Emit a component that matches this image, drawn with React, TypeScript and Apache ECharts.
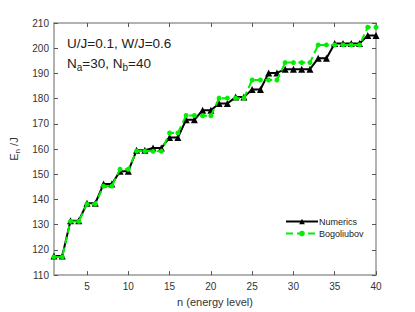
import React, { useEffect, useRef } from "react";
import * as echarts from "echarts";

const levels: number[] = Array.from({ length: 40 }, (_, i) => i + 1);
const numerics: number[] = [
  117.6, 117.6, 131.6, 131.6, 138.5, 138.5, 146.1, 146.1, 151.2, 151.2,
  159.5, 159.5, 160.4, 160.4, 164.6, 164.6, 171.6, 171.6, 175.4, 175.4,
  178.1, 178.1, 180.6, 180.6, 183.6, 183.6, 190.2, 190.2, 191.7, 191.7,
  191.7, 191.7, 196.0, 196.0, 201.9, 201.9, 201.9, 201.9, 205.0, 205.0,
];
const bogoliubov: number[] = [
  117.2, 117.2, 131.3, 131.3, 138.2, 138.2, 145.3, 145.3, 152.0, 152.0,
  159.2, 159.2, 159.1, 159.1, 166.4, 166.4, 173.3, 173.3, 173.2, 173.2,
  180.2, 180.2, 180.2, 180.2, 187.4, 187.4, 187.4, 187.4, 194.3, 194.3,
  194.3, 194.3, 201.3, 201.3, 201.3, 201.3, 201.3, 201.3, 208.3, 208.3,
];
const xTicks: number[] = [5, 10, 15, 20, 25, 30, 35, 40];

const FONT = "Liberation Sans";
const AXIS = "#999999";

export default function App() {
  const ref = useRef<HTMLDivElement>(null);
  useEffect(() => {
    if (!ref.current) return;
    const chart = echarts.init(ref.current, undefined, { renderer: "svg" });
    const axisCommon = {
      axisLine: { show: true, lineStyle: { color: AXIS, width: 1.5 } },
      axisTick: { show: true, inside: true, length: 4, lineStyle: { color: "#555", width: 1 } },
      splitLine: { show: false },
    };
    chart.setOption({
      animation: false,
      textStyle: { fontFamily: FONT },
      grid: { left: 54, top: 23, width: 322, height: 254, containLabel: false },
      graphic: [
        {
          type: "text",
          left: 67,
          top: 36,
          style: { text: "U/J=0.1, W/J=0.6", fontSize: 13.5, fontFamily: FONT, fill: "#222" },
        },
        {
          type: "text",
          left: 67,
          top: 56,
          style: {
            text: "N{s|a}=30, N{s|b}=40",
            fontSize: 13.5,
            fontFamily: FONT,
            fill: "#222",
            rich: {
              s: { fontSize: 10, fontFamily: FONT, fill: "#222", padding: [8, 0, 0, 0] },
            },
          },
        },
      ],
      legend: {
        orient: "vertical",
        left: 280,
        top: 212,
        itemWidth: 32,
        itemHeight: 7,
        itemGap: 3,
        textStyle: { fontSize: 9, fontFamily: FONT, color: "#222", padding: [0, 0, 0, -4] },
        data: ["Numerics", "Bogoliubov"],
      },
      xAxis: [
        {
          type: "value",
          min: 1,
          max: 40,
          ...axisCommon,
          axisTick: { ...axisCommon.axisTick, customValues: xTicks },
          axisLabel: { customValues: xTicks, fontSize: 10, color: "#333", fontFamily: FONT, margin: 6 },
          name: "n (energy level)",
          nameLocation: "middle",
          nameGap: 20,
          nameTextStyle: { fontSize: 11, color: "#333", fontFamily: FONT },
        },
        {
          type: "value",
          position: "top",
          min: 1,
          max: 40,
          ...axisCommon,
          axisTick: { ...axisCommon.axisTick, customValues: xTicks },
          axisLabel: { show: false, customValues: xTicks },
        },
      ],
      yAxis: [
        {
          type: "value",
          min: 110,
          max: 210,
          interval: 10,
          ...axisCommon,
          axisLabel: { fontSize: 10, color: "#333", fontFamily: FONT, margin: 5 },
          name: "E{s|n} /J",
          nameLocation: "middle",
          nameGap: 30,
          nameTextStyle: {
            fontSize: 11,
            color: "#333",
            fontFamily: FONT,
            rich: { s: { fontSize: 8, color: "#333", fontFamily: FONT, padding: [6, 0, 0, 0] } },
          },
        },
        {
          type: "value",
          position: "right",
          min: 110,
          max: 210,
          interval: 10,
          ...axisCommon,
          axisLabel: { show: false },
        },
      ],
      series: [
        {
          name: "Numerics",
          type: "line",
          data: levels.map((n, i) => [n, numerics[i]]),
          symbol: "triangle",
          symbolSize: 7,
          itemStyle: { color: "#000000" },
          lineStyle: { color: "#000000", width: 2 },
          z: 2,
        },
        {
          name: "Bogoliubov",
          type: "line",
          data: levels.map((n, i) => [n, bogoliubov[i]]),
          symbol: "circle",
          symbolSize: 5,
          itemStyle: { color: "#00ee00" },
          lineStyle: { color: "#00ee00", width: 2, type: [7, 4] },
          z: 3,
        },
      ],
    });
    return () => chart.dispose();
  }, []);
  return (
    <div
      ref={ref}
      style={{ position: "fixed", left: 0, top: 0, width: 415, height: 312, background: "#fff" }}
    />
  );
}
